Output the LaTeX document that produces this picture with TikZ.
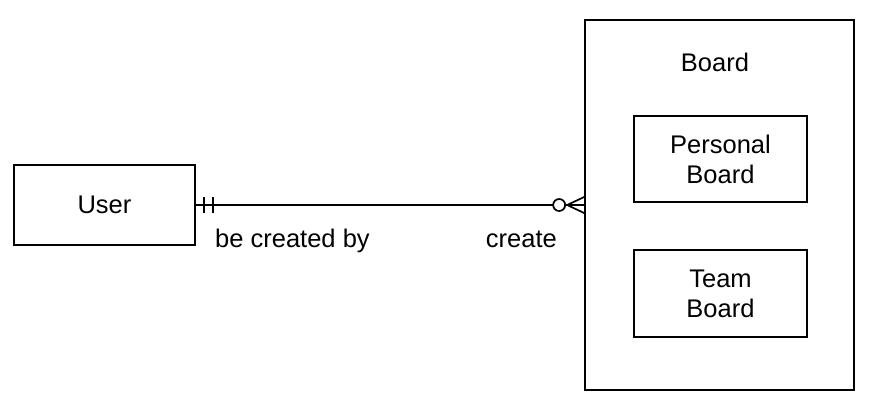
\documentclass[tikz,border=0pt]{standalone}
\usepackage{fontspec}
\setmainfont{Liberation Sans}
\begin{document}
\begin{tikzpicture}[x=1pt,y=-1pt,
  every node/.style={font=\fontsize{25.5}{30}\selectfont},
  entity/.style={draw, line width=1.7pt, rectangle, inner sep=0pt, align=center},
  rel/.style={line width=1.7pt},
  label text/.style={inner sep=0pt}]
  \useasboundingbox (0,0) rectangle (876,402);
  % entities
  \node[entity, minimum width=181pt, minimum height=80pt] (user) at (104.5,205) {User};
  \node[entity, minimum width=269pt, minimum height=370pt] (board) at (719.5,205) {};
  \node[inner sep=0pt, anchor=base] (boardtitle) at (715,71) {Board};
  \node[entity, minimum width=173pt, minimum height=86pt] (personal) at (720.5,159) {Personal\\Board};
  \node[entity, minimum width=173pt, minimum height=87pt] (team) at (720.5,293.5) {Team\\Board};
  % relationship line
  \draw[rel] (user.east) -- (board.west);
  % exactly-one end at User
  \draw[rel] ([xshift=8pt,yshift=-8pt]user.east) -- ([xshift=8pt,yshift=8pt]user.east);
  \draw[rel] ([xshift=17pt,yshift=-8pt]user.east) -- ([xshift=17pt,yshift=8pt]user.east);
  % zero-or-many end at Board
  \coordinate (foot) at ([xshift=-17pt]board.west);
  \draw[rel] (foot) -- ([yshift=-8pt]board.west);
  \draw[rel] (foot) -- ([yshift=8pt]board.west);
  \draw[rel, fill=white] ([xshift=-25pt]board.west) circle (6pt);
  % role labels
  \node[label text, anchor=base west] (lblby) at (215,247) {be created by};
  \node[label text, anchor=base east] (lblcreate) at (557,247) {create};
\end{tikzpicture}
\end{document}
